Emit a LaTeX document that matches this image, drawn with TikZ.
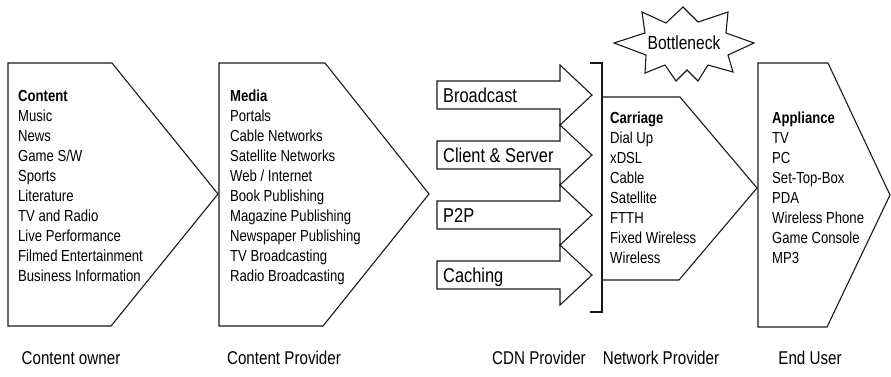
\documentclass[tikz,border=0pt]{standalone}
\usepackage{fontspec}
\setmainfont{Liberation Sans}[FakeStretch=0.82]
\begin{document}
\begin{tikzpicture}[x=1pt,y=-1pt,
  outline/.style={draw=black!90, line width=1.1pt, line join=miter},
  item/.style={inner sep=0pt, anchor=base west, font=\fontsize{16}{20}\selectfont},
  headitem/.style={item, font=\fontsize{16}{20}\selectfont\bfseries},
  cdnlabel/.style={inner sep=0pt, anchor=base west, font=\fontsize{20}{24}\selectfont},
  rolelabel/.style={inner sep=0pt, anchor=base, font=\fontsize{18.5}{22}\selectfont}]
\useasboundingbox (0,0) rectangle (891,376);

% value-chain chevrons
\draw[outline] (8,63) -- (112,63) -- (218,194) -- (111,326) -- (8,326) -- cycle;
\draw[outline] (219,63) -- (325,63) -- (429,194) -- (323,326) -- (219,326) -- cycle;
\draw[outline] (602,97) -- (680,97) -- (757,188) -- (679,280) -- (602,280) -- cycle;
\draw[outline] (758,63) -- (828,63) -- (890,195) -- (827,327) -- (758,327) -- cycle;

% CDN delivery arrows
\foreach \c/\lbl [count=\k] in {95/Broadcast, 155/Client \& Server, 215/P2P, 275/Caching} {
  \draw[outline] (437,\c-14) -- (560,\c-14) -- (560,\c-30) -- (592,\c)
     -- (560,\c+30) -- (560,\c+14) -- (437,\c+14) -- cycle;
  \node[cdnlabel] (cdn-\k) at (443,\c+7.2) {\lbl};
}

% bracket gathering the CDN arrows
\draw[outline] (590,63) -- (602,63) -- (602,312) -- (590,312);

% bottleneck burst
\draw[outline] (614,43) -- (645,33) -- (642,12) -- (666,23) -- (683,7) -- (698,22)
  -- (728,12) -- (726,33) -- (754,43) -- (728,55) -- (733,72) -- (708,65)
  -- (698,81) -- (687,70) -- (676,81) -- (665,65) -- (645,73) -- (646,55) -- cycle;
\node[inner sep=0pt, anchor=base, font=\fontsize{19}{22}\selectfont] (bottleneck) at (684,49.8) {Bottleneck};

% content owner list
\node[headitem] (content-h) at (18,101.7) {Content};
\foreach \t [count=\i] in {Music, News, Game S/W, Sports, Literature, TV and Radio,
    Live Performance, Filmed Entertainment, Business Information}
  \node[item] (content-\i) at (18,101.7+20*\i) {\t};

% content provider list
\node[headitem] (media-h) at (230,101.7) {Media};
\foreach \t [count=\i] in {Portals, Cable Networks, Satellite Networks, Web / Internet,
    Book Publishing, Magazine Publishing, Newspaper Publishing, TV Broadcasting,
    Radio Broadcasting}
  \node[item] (media-\i) at (230,101.7+20*\i) {\t};

% network provider list
\node[headitem] (carriage-h) at (610,123.7) {Carriage};
\foreach \t [count=\i] in {Dial Up, xDSL, Cable, Satellite, FTTH, Fixed Wireless, Wireless}
  \node[item] (carriage-\i) at (610,123.7+20*\i) {\t};

% end user list
\node[headitem] (appliance-h) at (772,123.7) {Appliance};
\foreach \t [count=\i] in {TV, PC, Set-Top-Box, PDA, Wireless Phone, Game Console, MP3}
  \node[item] (appliance-\i) at (772,123.7+20*\i) {\t};

% roles along the bottom
\node[rolelabel] (role-owner) at (71,364.6) {Content owner};
\node[rolelabel] (role-provider) at (284,364.6) {Content Provider};
\node[rolelabel] (role-cdn) at (539,364.6) {CDN Provider};
\node[rolelabel] (role-network) at (661,364.6) {Network Provider};
\node[rolelabel] (role-user) at (810,364.6) {End User};
\end{tikzpicture}
\end{document}
